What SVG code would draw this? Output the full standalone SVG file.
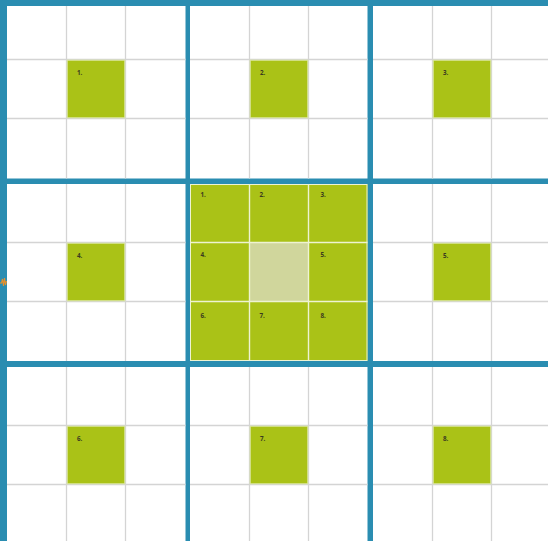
<svg xmlns="http://www.w3.org/2000/svg" width="548" height="541" viewBox="0 0 548 541">
<style>
.blk{fill:#ffffff}
.gl{stroke:#d4d4d4;stroke-width:1.3;fill:none}
.g{fill:#aac217}
.gc{fill:#aac217;stroke:#dbe6a3;stroke-width:1}
.wl{stroke:#eef3d2;stroke-width:1.4;fill:none}
.lt{fill:#d0d69c}
.t{font-family:"Open Sans","Liberation Sans",sans-serif;font-size:6.3px;font-weight:bold;fill:#3a3a20}
</style>
<rect x="0" y="0" width="548" height="541" fill="#2a8db1"/>
<g id="connectors">
<polyline points="0,283 1.5,283 2.5,279 3.5,286 4.5,278 5.5,285 6.5,281" fill="none" stroke="#e8902a" stroke-width="1.1"/>
</g>
<g id="block-tl">
<rect class="blk" x="7" y="6" width="178.5" height="172.5"/>
<path class="gl" d="M66.5,6V178.5M125.5,6V178.5M7,59.5H185.5M7,118.5H185.5"/>
<rect class="gc" x="67.2" y="60.2" width="57.6" height="57.6"/>
<text class="t" x="77" y="75">1.</text>
</g>
<g id="block-tc">
<rect class="blk" x="190" y="6" width="177.5" height="172.5"/>
<path class="gl" d="M249.5,6V178.5M308.5,6V178.5M190,59.5H367.5M190,118.5H367.5"/>
<rect class="gc" x="250.2" y="60.2" width="57.6" height="57.6"/>
<text class="t" x="260" y="75">2.</text>
</g>
<g id="block-tr">
<rect class="blk" x="373" y="6" width="175" height="172.5"/>
<path class="gl" d="M432.5,6V178.5M491.5,6V178.5M373,59.5H548M373,118.5H548"/>
<rect class="gc" x="433.2" y="60.2" width="57.6" height="57.6"/>
<text class="t" x="443" y="75">3.</text>
</g>
<g id="block-ml">
<rect class="blk" x="7" y="184" width="178.5" height="177"/>
<path class="gl" d="M66.5,184V361M125.5,184V361M7,242.5H185.5M7,301.5H185.5"/>
<rect class="gc" x="67.2" y="243.2" width="57.6" height="57.6"/>
<text class="t" x="77" y="258">4.</text>
</g>
<g id="block-center">
<rect class="g" x="190" y="184" width="177.5" height="177"/>
<rect class="lt" x="249.5" y="242.5" width="59" height="59"/>
<path class="wl" d="M249.5,184V361M308.5,184V361M190,242.5H367.5M190,301.5H367.5"/>
<rect x="190.5" y="184.5" width="176.5" height="176" fill="none" stroke="#eef3d2" stroke-width="1"/>
<text class="t" x="200.5" y="197">1.</text>
<text class="t" x="259.5" y="197">2.</text>
<text class="t" x="320.5" y="197">3.</text>
<text class="t" x="200.5" y="257">4.</text>
<text class="t" x="320.5" y="257">5.</text>
<text class="t" x="200.5" y="318">6.</text>
<text class="t" x="259.5" y="318">7.</text>
<text class="t" x="320.5" y="318">8.</text>
</g>
<g id="block-mr">
<rect class="blk" x="373" y="184" width="175" height="177"/>
<path class="gl" d="M432.5,184V361M491.5,184V361M373,242.5H548M373,301.5H548"/>
<rect class="gc" x="433.2" y="243.2" width="57.6" height="57.6"/>
<text class="t" x="443" y="258">5.</text>
</g>
<g id="block-bl">
<rect class="blk" x="7" y="367" width="178.5" height="174"/>
<path class="gl" d="M66.5,367V541M125.5,367V541M7,425.5H185.5M7,484.5H185.5"/>
<rect class="gc" x="67.2" y="426.2" width="57.6" height="57.6"/>
<text class="t" x="77" y="441">6.</text>
</g>
<g id="block-bc">
<rect class="blk" x="190" y="367" width="177.5" height="174"/>
<path class="gl" d="M249.5,367V541M308.5,367V541M190,425.5H367.5M190,484.5H367.5"/>
<rect class="gc" x="250.2" y="426.2" width="57.6" height="57.6"/>
<text class="t" x="260" y="441">7.</text>
</g>
<g id="block-br">
<rect class="blk" x="373" y="367" width="175" height="174"/>
<path class="gl" d="M432.5,367V541M491.5,367V541M373,425.5H548M373,484.5H548"/>
<rect class="gc" x="433.2" y="426.2" width="57.6" height="57.6"/>
<text class="t" x="443" y="441">8.</text>
</g>
</svg>
